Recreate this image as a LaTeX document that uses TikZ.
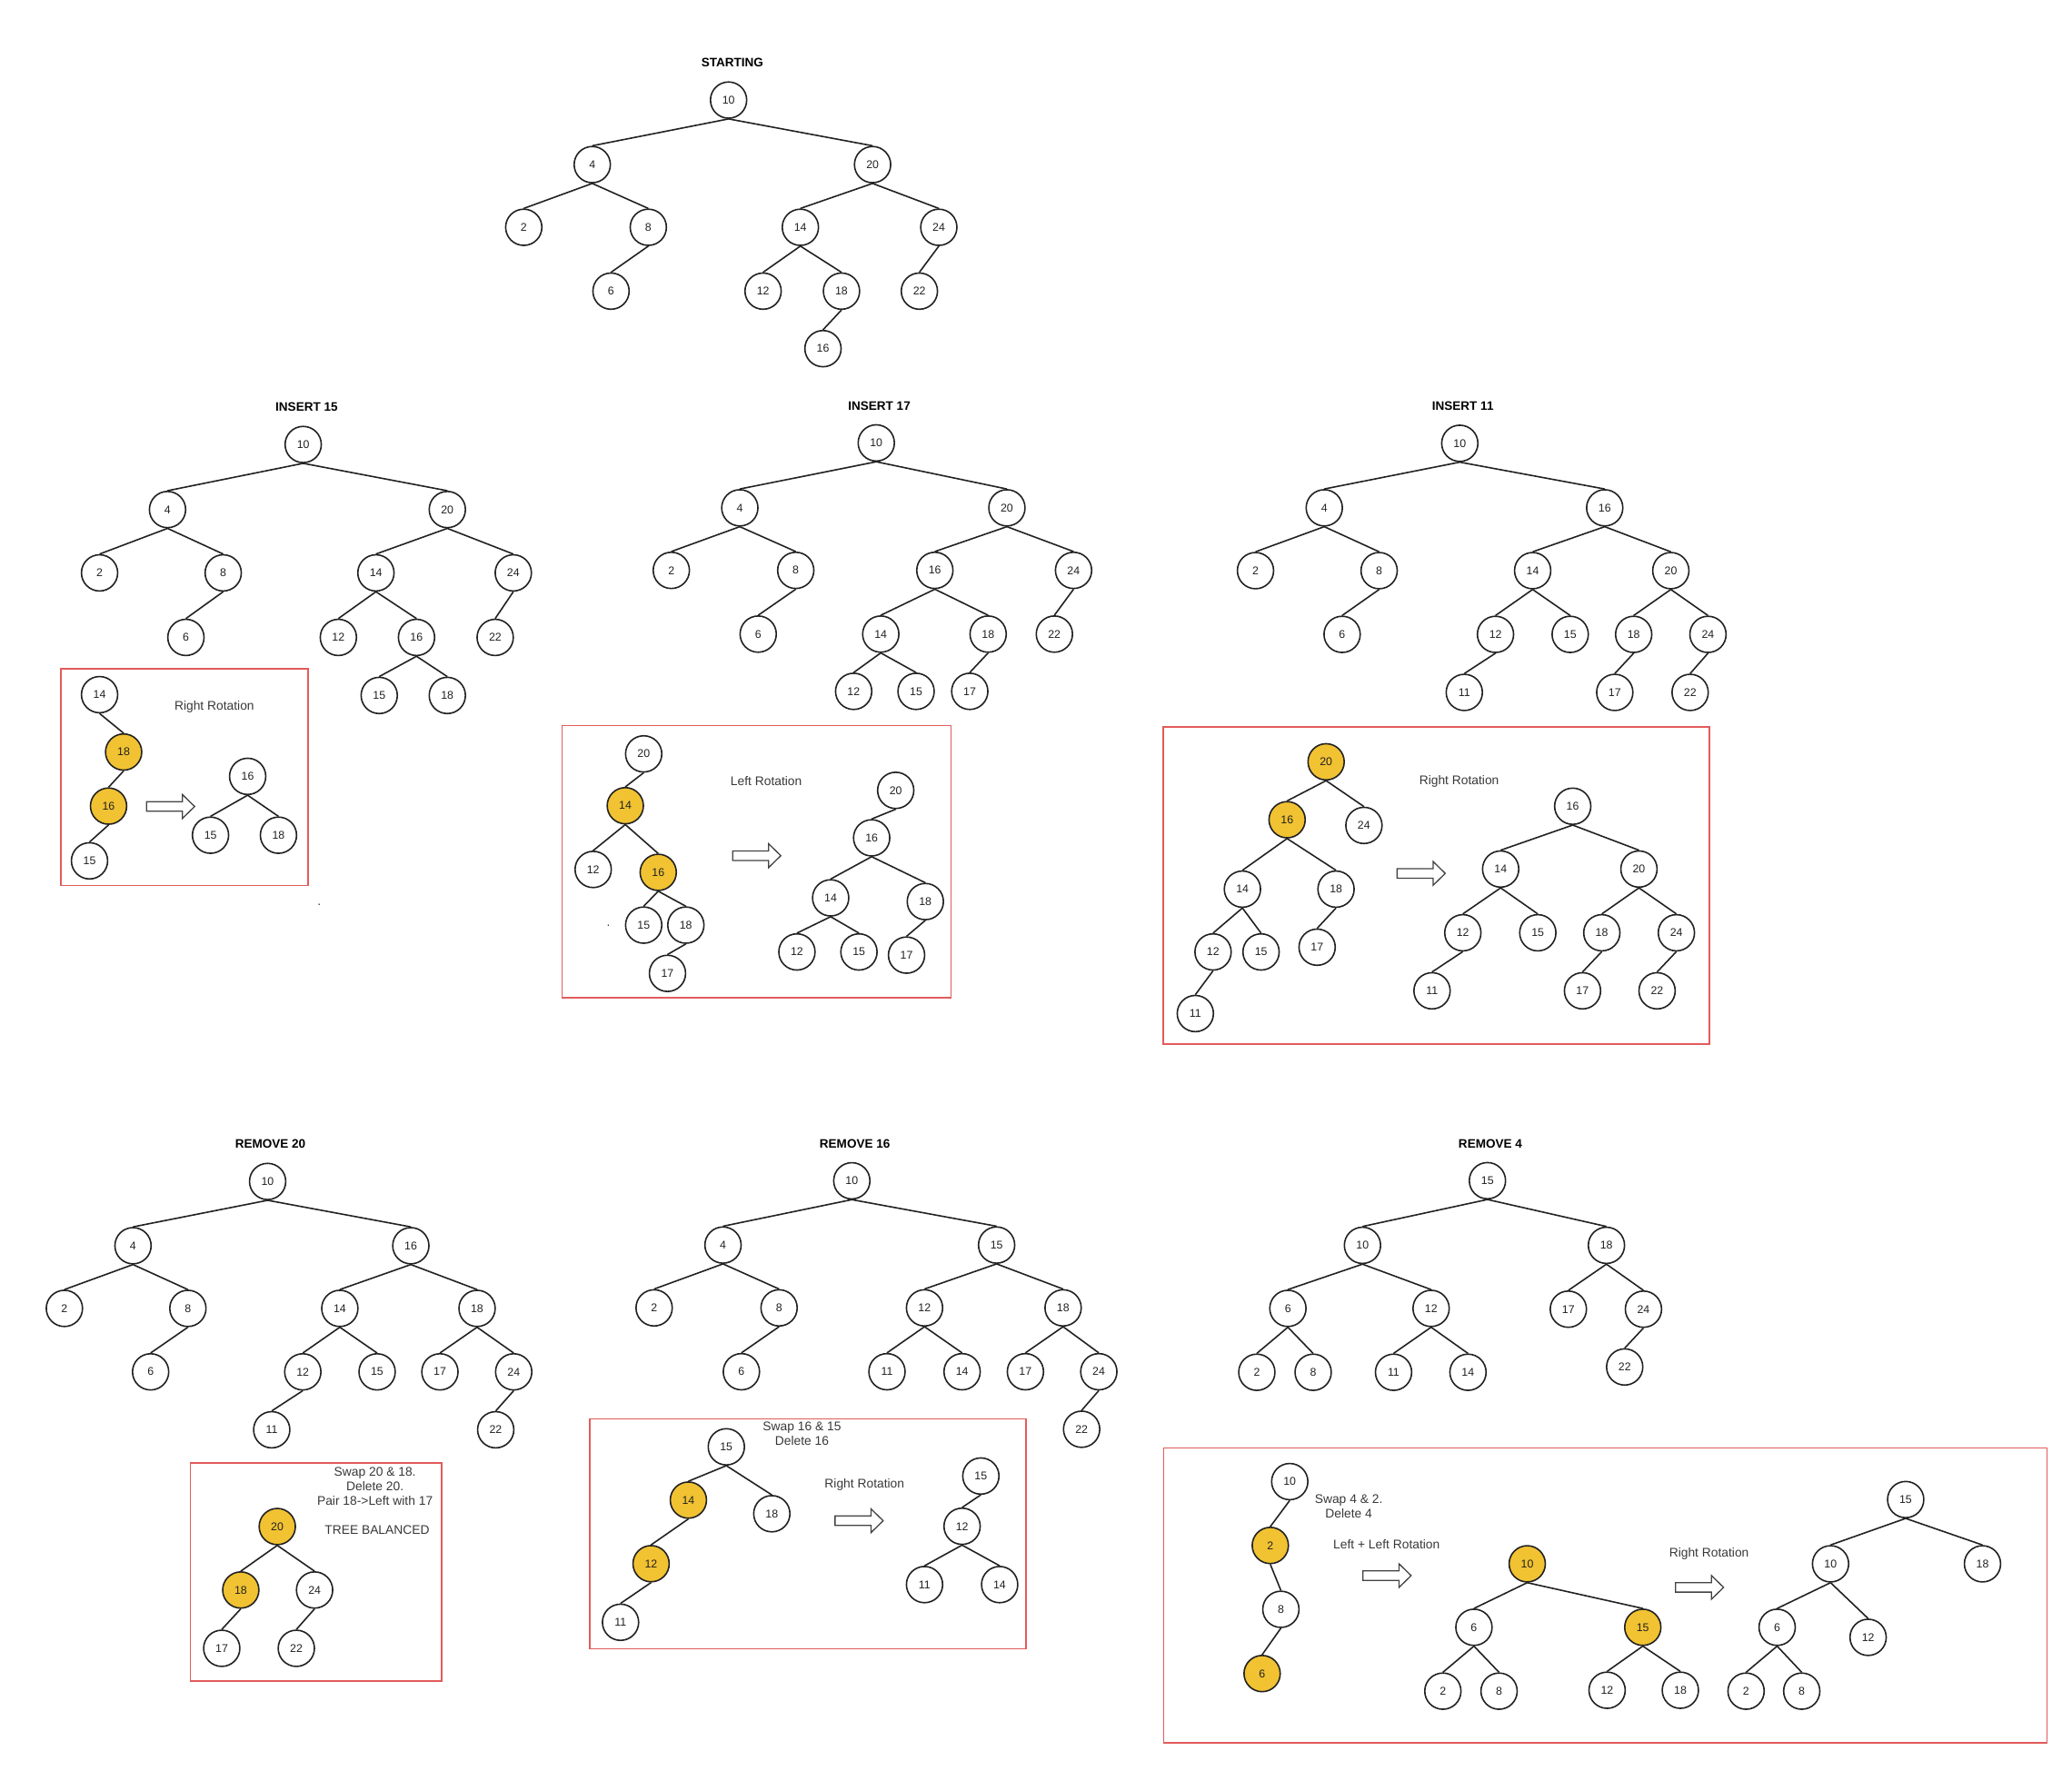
\documentclass[tikz,border=0pt]{standalone}
\usepackage{fontspec}
\setmainfont{Liberation Sans}
\usepackage{tikz}
\definecolor{hotfill}{HTML}{F1C232}
\definecolor{framered}{HTML}{E25B5B}
\definecolor{inkgray}{HTML}{222222}

\begin{document}
\begin{tikzpicture}[x=1pt, y=-1pt,
    bnode/.style={circle, draw=inkgray, line width=1.1pt, fill=white, minimum size=27.4pt, inner sep=0pt, font=\fontsize{8.5}{10}\selectfont, text=inkgray},
    hot/.style={bnode, fill=hotfill},
    link/.style={line width=1.1pt, draw=inkgray},
    frame/.style={draw=framered, line width=1pt},
    note/.style={font=\fontsize{9.5}{11}\selectfont, text=inkgray!90, align=center, inner sep=0pt},
    heading/.style={font=\bfseries\fontsize{9.3}{11}\selectfont, inner sep=0pt},
    fatarrow/.pic={\draw[line width=0.9pt, draw=inkgray!85, fill=white] (-18.2,-3.6) -- (9,-3.6) -- (9,-9) -- (18.2,0) -- (9,9) -- (9,3.6) -- (-18.2,3.6) -- cycle;}]

    \useasboundingbox (0,0) rectangle (1567,1347);

    % starting tree
    \node[heading] (sT) at (553.9,47.6) {STARTING};
    \node[bnode] (s10) at (551.0,75.7) {10};
    \node[bnode] (s4) at (447.9,124.5) {4};
    \node[bnode] (s20) at (659.9,124.5) {20};
    \node[bnode] (s2) at (396.1,171.9) {2};
    \node[bnode] (s8) at (490.3,171.9) {8};
    \node[bnode] (s14) at (605.3,171.9) {14};
    \node[bnode] (s24) at (710.0,171.9) {24};
    \node[bnode] (s6) at (462.1,220.2) {6};
    \node[bnode] (s12) at (577.1,220.2) {12};
    \node[bnode] (s18) at (636.4,220.2) {18};
    \node[bnode] (s22) at (695.3,220.2) {22};
    \node[bnode] (s16) at (622.4,263.7) {16};
    \draw[link] (s10.south) -- (s4.north) (s10.south) -- (s20.north);
    \draw[link] (s4.south) -- (s2.north) (s4.south) -- (s8.north) (s8.south) -- (s6.north);
    \draw[link] (s20.south) -- (s14.north) (s20.south) -- (s24.north) (s24.south) -- (s22.north);
    \draw[link] (s14.south) -- (s12.north) (s14.south) -- (s18.north) (s18.south) -- (s16.north);

    % insert 15
    \node[heading] (aT) at (231.9,307.8) {INSERT 15};
    \node[bnode] (a10) at (229.3,336.2) {10};
    \node[bnode] (a4) at (126.7,385.4) {4};
    \node[bnode] (a20) at (338.3,385.4) {20};
    \node[bnode] (a2) at (75.3,433.3) {2};
    \node[bnode] (a8) at (168.8,433.3) {8};
    \node[bnode] (a14) at (284.3,433.3) {14};
    \node[bnode] (a24) at (388.2,433.3) {24};
    \node[bnode] (a6) at (140.6,482.1) {6};
    \node[bnode] (a12) at (255.9,482.1) {12};
    \node[bnode] (a16) at (315.0,482.1) {16};
    \node[bnode] (a22) at (374.5,482.1) {22};
    \node[bnode] (a15) at (286.8,526.0) {15};
    \node[bnode] (a18) at (338.3,526.0) {18};
    \draw[link] (a10.south) -- (a4.north) (a10.south) -- (a20.north);
    \draw[link] (a4.south) -- (a2.north) (a4.south) -- (a8.north) (a8.south) -- (a6.north);
    \draw[link] (a20.south) -- (a14.north) (a20.south) -- (a24.north) (a24.south) -- (a22.north);
    \draw[link] (a14.south) -- (a12.north) (a14.south) -- (a16.north);
    \draw[link] (a16.south) -- (a15.north) (a16.south) -- (a18.north);

    \draw[frame] (46.1,505.8) rectangle (233,669.8);
    \node[bnode] (al14) at (75.3,525.4) {14};
    \node[hot] (al18) at (93.5,568.8) {18};
    \node[hot] (al16) at (82.1,609.7) {16};
    \node[bnode] (al15) at (67.7,651.1) {15};
    \draw[link] (al14.south) -- (al18.north) (al18.south) -- (al16.north) (al16.south) -- (al15.north);
    \node[note] (aN) at (162.1,534.6) {Right Rotation};
    \pic at (129.0,610.0) {fatarrow};
    \node[bnode] (ar16) at (187.3,587.2) {16};
    \node[bnode] (ar15) at (159.2,631.7) {15};
    \node[bnode] (ar18) at (210.6,631.7) {18};
    \draw[link] (ar16.south) -- (ar15.north) (ar16.south) -- (ar18.north);
    \node[note] (aDot) at (241.5,684.5) {.};

    % insert 17
    \node[heading] (bT) at (665.0,307.4) {INSERT 17};
    \node[bnode] (b10) at (662.7,335.0) {10};
    \node[bnode] (b4) at (559.5,384.1) {4};
    \node[bnode] (b20) at (761.5,384.1) {20};
    \node[bnode] (b2) at (507.7,431.4) {2};
    \node[bnode] (b8) at (601.8,431.4) {8};
    \node[bnode] (b16) at (707.0,431.4) {16};
    \node[bnode] (b24) at (811.9,431.4) {24};
    \node[bnode] (b6) at (573.4,479.6) {6};
    \node[bnode] (b14) at (666.1,479.6) {14};
    \node[bnode] (b18) at (747.3,479.6) {18};
    \node[bnode] (b22) at (797.4,479.6) {22};
    \node[bnode] (b12) at (645.6,522.9) {12};
    \node[bnode] (b15) at (692.8,522.9) {15};
    \node[bnode] (b17) at (733.4,522.9) {17};
    \draw[link] (b10.south) -- (b4.north) (b10.south) -- (b20.north);
    \draw[link] (b4.south) -- (b2.north) (b4.south) -- (b8.north) (b8.south) -- (b6.north);
    \draw[link] (b20.south) -- (b16.north) (b20.south) -- (b24.north) (b24.south) -- (b22.north);
    \draw[link] (b16.south) -- (b14.north) (b16.south) -- (b18.north);
    \draw[link] (b14.south) -- (b12.north) (b14.south) -- (b15.north) (b18.south) -- (b17.north);

    \draw[frame] (425.1,548.7) rectangle (719.2,754.7);
    \node[bnode] (bl20) at (486.8,570.2) {20};
    \node[hot] (bl14) at (472.9,609.4) {14};
    \node[bnode] (bl12) at (448.6,657.6) {12};
    \node[hot] (bl16) at (497.8,659.8) {16};
    \node[bnode] (bl15) at (486.8,699.7) {15};
    \node[bnode] (bl18) at (518.7,699.7) {18};
    \node[bnode] (bl17) at (504.8,736.2) {17};
    \draw[link] (bl20.south) -- (bl14.north) (bl14.south) -- (bl12.north) (bl14.south) -- (bl16.north);
    \draw[link] (bl16.south) -- (bl15.north) (bl16.south) -- (bl18.north) (bl18.south) -- (bl17.north);
    \node[note] (bDot) at (460.2,700.2) {.};
    \node[note] (bN) at (579.5,590.7) {Left Rotation};
    \pic at (572.3,647.2) {fatarrow};
    \node[bnode] (br20) at (677.4,597.8) {20};
    \node[bnode] (br16) at (659.2,633.7) {16};
    \node[bnode] (br14) at (628.2,679.1) {14};
    \node[bnode] (br18) at (699.8,681.9) {18};
    \node[bnode] (br12) at (602.7,720.0) {12};
    \node[bnode] (br15) at (649.6,720.0) {15};
    \node[bnode] (br17) at (685.6,722.4) {17};
    \draw[link] (br20.south) -- (br16.north) (br16.south) -- (br14.north) (br16.south) -- (br18.north);
    \draw[link] (br14.south) -- (br12.north) (br14.south) -- (br15.north) (br18.south) -- (br17.north);

    % insert 11
    \node[heading] (cT) at (1106.3,307.2) {INSERT 11};
    \node[bnode] (c10) at (1104.0,335.3) {10};
    \node[bnode] (c4) at (1001.5,384.1) {4};
    \node[bnode] (c16) at (1213.6,384.1) {16};
    \node[bnode] (c2) at (949.5,431.6) {2};
    \node[bnode] (c8) at (1043.0,431.6) {8};
    \node[bnode] (c14) at (1159.1,431.6) {14};
    \node[bnode] (c20) at (1263.6,431.6) {20};
    \node[bnode] (c6) at (1015.0,479.8) {6};
    \node[bnode] (c12) at (1131.0,479.8) {12};
    \node[bnode] (c15) at (1187.5,479.8) {15};
    \node[bnode] (c18) at (1235.5,479.8) {18};
    \node[bnode] (c24) at (1291.7,479.8) {24};
    \node[bnode] (c11) at (1107.4,523.7) {11};
    \node[bnode] (c17) at (1221.2,523.7) {17};
    \node[bnode] (c22) at (1278.2,523.7) {22};
    \draw[link] (c10.south) -- (c4.north) (c10.south) -- (c16.north);
    \draw[link] (c4.south) -- (c2.north) (c4.south) -- (c8.north) (c8.south) -- (c6.north);
    \draw[link] (c16.south) -- (c14.north) (c16.south) -- (c20.north);
    \draw[link] (c14.south) -- (c12.north) (c14.south) -- (c15.north) (c12.south) -- (c11.north);
    \draw[link] (c20.south) -- (c18.north) (c20.south) -- (c24.north);
    \draw[link] (c18.south) -- (c17.north) (c24.south) -- (c22.north);

    \draw[frame] (879.8,549.8) rectangle (1292.9,789.7);
    \node[hot] (cl20) at (1002.9,576.2) {20};
    \node[hot] (cl16) at (973.4,620.0) {16};
    \node[bnode] (cl24) at (1031.5,624.3) {24};
    \node[bnode] (cl14) at (939.6,672.5) {14};
    \node[bnode] (cl18) at (1010.4,672.5) {18};
    \node[bnode] (cl12) at (917.4,720.0) {12};
    \node[bnode] (cl15) at (953.7,720.0) {15};
    \node[bnode] (cl17) at (996.1,716.4) {17};
    \node[bnode] (cl11) at (904.0,766.6) {11};
    \draw[link] (cl20.south) -- (cl16.north) (cl20.south) -- (cl24.north);
    \draw[link] (cl16.south) -- (cl14.north) (cl16.south) -- (cl18.north);
    \draw[link] (cl14.south) -- (cl12.north) (cl14.south) -- (cl15.north);
    \draw[link] (cl18.south) -- (cl17.north) (cl12.south) -- (cl11.north);
    \node[note] (cN) at (1103.5,591.0) {Right Rotation};
    \pic at (1074.8,660.6) {fatarrow};
    \node[bnode] (cr16) at (1189.4,609.8) {16};
    \node[bnode] (cr14) at (1134.9,657.3) {14};
    \node[bnode] (cr20) at (1239.5,657.3) {20};
    \node[bnode] (cr12) at (1106.3,705.5) {12};
    \node[bnode] (cr15) at (1163.0,705.5) {15};
    \node[bnode] (cr18) at (1211.4,705.5) {18};
    \node[bnode] (cr24) at (1267.8,705.5) {24};
    \node[bnode] (cr11) at (1083.0,749.4) {11};
    \node[bnode] (cr17) at (1196.8,749.4) {17};
    \node[bnode] (cr22) at (1253.2,749.4) {22};
    \draw[link] (cr16.south) -- (cr14.north) (cr16.south) -- (cr20.north);
    \draw[link] (cr14.south) -- (cr12.north) (cr14.south) -- (cr15.north) (cr12.south) -- (cr11.north);
    \draw[link] (cr20.south) -- (cr18.north) (cr20.south) -- (cr24.north);
    \draw[link] (cr18.south) -- (cr17.north) (cr24.south) -- (cr22.north);

    % remove 20
    \node[heading] (dT) at (204.5,865.3) {REMOVE 20};
    \node[bnode] (d10) at (202.4,893.6) {10};
    \node[bnode] (d4) at (100.6,942.2) {4};
    \node[bnode] (d16) at (310.7,942.2) {16};
    \node[bnode] (d2) at (48.7,989.6) {2};
    \node[bnode] (d8) at (142.1,989.6) {8};
    \node[bnode] (d14) at (257.0,989.6) {14};
    \node[bnode] (d18) at (360.8,989.6) {18};
    \node[bnode] (d6) at (113.9,1037.6) {6};
    \node[bnode] (d12) at (229.0,1037.6) {12};
    \node[bnode] (d15) at (285.2,1037.6) {15};
    \node[bnode] (d17) at (332.7,1037.6) {17};
    \node[bnode] (d24) at (388.5,1037.6) {24};
    \node[bnode] (d11) at (205.5,1081.4) {11};
    \node[bnode] (d22) at (374.9,1081.4) {22};
    \draw[link] (d10.south) -- (d4.north) (d10.south) -- (d16.north);
    \draw[link] (d4.south) -- (d2.north) (d4.south) -- (d8.north) (d8.south) -- (d6.north);
    \draw[link] (d16.south) -- (d14.north) (d16.south) -- (d18.north);
    \draw[link] (d14.south) -- (d12.north) (d14.south) -- (d15.north) (d12.south) -- (d11.north);
    \draw[link] (d18.south) -- (d17.north) (d18.south) -- (d24.north) (d24.south) -- (d22.north);

    \draw[frame] (144.0,1106.6) rectangle (334.0,1271.6);
    \node[note] (dN) at (283.6,1124.0) {Swap 20 \& 18.\\Delete 20.\\Pair 18->Left with 17};
    \node[note] (dB) at (285.2,1157.1) {TREE BALANCED};
    \node[hot] (dl20) at (209.7,1154.6) {20};
    \node[hot] (dl18) at (182.1,1202.6) {18};
    \node[bnode] (dl24) at (237.9,1202.6) {24};
    \node[bnode] (dl17) at (167.7,1246.7) {17};
    \node[bnode] (dl22) at (224.1,1246.7) {22};
    \draw[link] (dl20.south) -- (dl18.north) (dl20.south) -- (dl24.north);
    \draw[link] (dl18.south) -- (dl17.north) (dl24.south) -- (dl22.north);

    % remove 16
    \node[heading] (eT) at (646.5,865.1) {REMOVE 16};
    \node[bnode] (e10) at (644.2,893.1) {10};
    \node[bnode] (e4) at (546.8,941.7) {4};
    \node[bnode] (e15) at (753.7,941.7) {15};
    \node[bnode] (e2) at (494.7,989.2) {2};
    \node[bnode] (e8) at (589.2,989.2) {8};
    \node[bnode] (e12) at (699.2,989.2) {12};
    \node[bnode] (e18) at (804.0,989.2) {18};
    \node[bnode] (e6) at (560.7,1037.5) {6};
    \node[bnode] (e11) at (670.8,1037.5) {11};
    \node[bnode] (e14) at (727.6,1037.5) {14};
    \node[bnode] (e17) at (775.5,1037.5) {17};
    \node[bnode] (e24) at (831.0,1037.5) {24};
    \node[bnode] (e22) at (818.0,1081.0) {22};
    \draw[link] (e10.south) -- (e4.north) (e10.south) -- (e15.north);
    \draw[link] (e4.south) -- (e2.north) (e4.south) -- (e8.north) (e8.south) -- (e6.north);
    \draw[link] (e15.south) -- (e12.north) (e15.south) -- (e18.north);
    \draw[link] (e12.south) -- (e11.north) (e12.south) -- (e14.north);
    \draw[link] (e18.south) -- (e17.north) (e18.south) -- (e24.north) (e24.south) -- (e22.north);

    \draw[frame] (445.9,1073.0) rectangle (776.0,1247.1);
    \node[note] (eN) at (606.5,1084.5) {Swap 16 \& 15\\Delete 16};
    \node[bnode] (el15) at (549.3,1094.3) {15};
    \node[hot] (el14) at (520.6,1134.6) {14};
    \node[bnode] (el18) at (583.7,1144.9) {18};
    \node[hot] (el12) at (492.4,1182.7) {12};
    \node[bnode] (el11) at (469.3,1227.0) {11};
    \draw[link] (el15.south) -- (el14.north) (el15.south) -- (el18.north);
    \draw[link] (el14.south) -- (el12.north) (el12.south) -- (el11.north);
    \node[note] (eR) at (653.8,1123.0) {Right Rotation};
    \pic at (649.7,1150.2) {fatarrow};
    \node[bnode] (er15) at (741.8,1116.4) {15};
    \node[bnode] (er12) at (727.6,1154.4) {12};
    \node[bnode] (er11) at (699.2,1198.5) {11};
    \node[bnode] (er14) at (756.0,1198.5) {14};
    \draw[link] (er15.south) -- (er12.north) (er12.south) -- (er11.north) (er12.south) -- (er14.north);

    % remove 4
    \node[heading] (fT) at (1127.1,865.3) {REMOVE 4};
    \node[bnode] (f15) at (1124.9,893.0) {15};
    \node[bnode] (f10) at (1030.4,941.9) {10};
    \node[bnode] (f18) at (1214.9,941.9) {18};
    \node[bnode] (f6) at (974.0,989.6) {6};
    \node[bnode] (f12) at (1082.3,989.6) {12};
    \node[bnode] (f17) at (1186.1,990.2) {17};
    \node[bnode] (f24) at (1242.9,990.2) {24};
    \node[bnode] (f2) at (950.5,1037.9) {2};
    \node[bnode] (f8) at (993.1,1037.9) {8};
    \node[bnode] (f11) at (1053.9,1037.9) {11};
    \node[bnode] (f14) at (1110.2,1037.9) {14};
    \node[bnode] (f22) at (1228.7,1033.9) {22};
    \draw[link] (f15.south) -- (f10.north) (f15.south) -- (f18.north);
    \draw[link] (f10.south) -- (f6.north) (f10.south) -- (f12.north);
    \draw[link] (f18.south) -- (f17.north) (f18.south) -- (f24.north) (f24.south) -- (f22.north);
    \draw[link] (f6.south) -- (f2.north) (f6.south) -- (f8.north);
    \draw[link] (f12.south) -- (f11.north) (f12.south) -- (f14.north);

    \draw[frame] (880.0,1095.0) rectangle (1548.1,1318.1);
    \node[bnode] (fl10) at (975.4,1120.6) {10};
    \node[hot] (fl2) at (960.7,1168.9) {2};
    \node[bnode] (fl8) at (968.7,1217.2) {8};
    \node[hot] (fl6) at (954.5,1265.8) {6};
    \draw[link] (fl10.south) -- (fl2.north) (fl2.south) -- (fl8.north) (fl8.south) -- (fl6.north);
    \node[note] (fN) at (1020.0,1139.4) {Swap 4 \& 2.\\Delete 4};
    \node[note] (fL) at (1048.6,1168.3) {Left + Left Rotation};
    \pic at (1049.0,1191.7) {fatarrow};
    \node[hot] (fm10) at (1155.0,1182.8) {10};
    \node[bnode] (fm6) at (1114.7,1230.8) {6};
    \node[hot] (fm15) at (1242.4,1230.8) {15};
    \node[bnode] (fm2) at (1091.2,1279.1) {2};
    \node[bnode] (fm8) at (1133.7,1279.1) {8};
    \node[bnode] (fm12) at (1215.4,1278.4) {12};
    \node[bnode] (fm18) at (1270.8,1278.4) {18};
    \draw[link] (fm10.south) -- (fm6.north) (fm10.south) -- (fm15.north);
    \draw[link] (fm6.south) -- (fm2.north) (fm6.south) -- (fm8.north);
    \draw[link] (fm15.south) -- (fm12.north) (fm15.south) -- (fm18.north);
    \node[note] (fR) at (1292.5,1175.4) {Right Rotation};
    \pic at (1285.3,1200.6) {fatarrow};
    \node[bnode] (fr15) at (1441.2,1134.2) {15};
    \node[bnode] (fr10) at (1384.4,1182.8) {10};
    \node[bnode] (fr18) at (1499.3,1182.8) {18};
    \node[bnode] (fr6) at (1344.0,1230.8) {6};
    \node[bnode] (fr12) at (1412.8,1238.4) {12};
    \node[bnode] (fr2) at (1320.5,1279.1) {2};
    \node[bnode] (fr8) at (1362.6,1279.1) {8};
    \draw[link] (fr15.south) -- (fr10.north) (fr15.south) -- (fr18.north);
    \draw[link] (fr10.south) -- (fr6.north) (fr10.south) -- (fr12.north);
    \draw[link] (fr6.south) -- (fr2.north) (fr6.south) -- (fr8.north);

\end{tikzpicture}
\end{document}
